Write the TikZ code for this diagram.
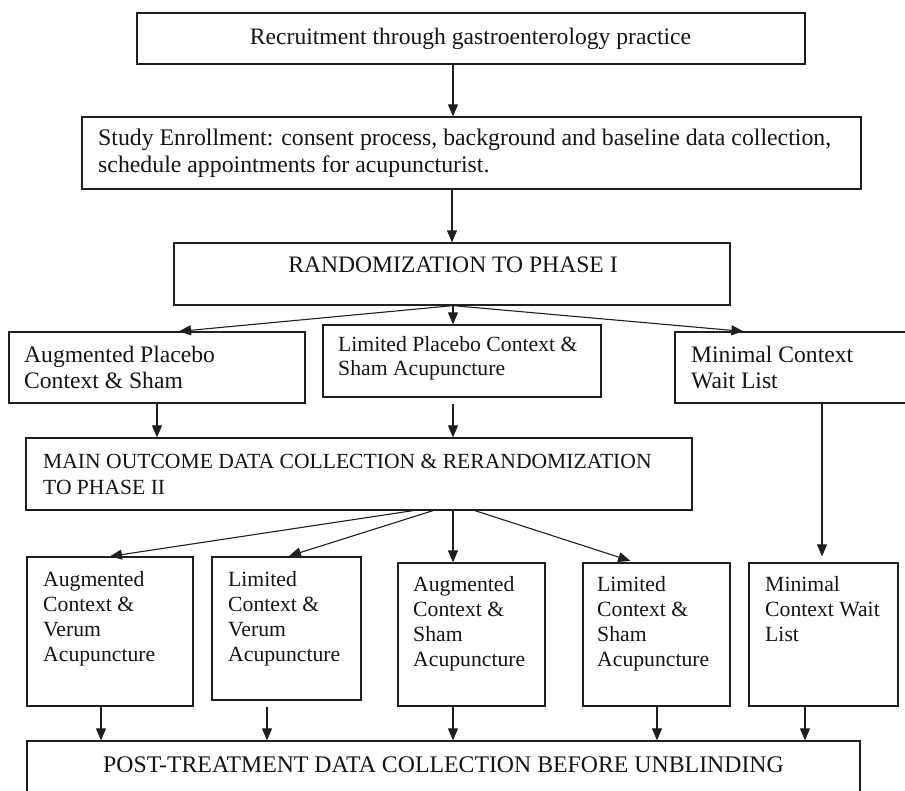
\documentclass[tikz,border=0pt]{standalone}
\usepackage{fontspec}
\setmainfont{Liberation Serif}
\usetikzlibrary{arrows.meta}
\begin{document}
\begin{tikzpicture}[x=1pt,y=-1pt,
  box/.style={draw=black!88, line width=1.25pt, inner sep=0pt},
  txt/.style={inner sep=0pt, align=left, text=black!92},
  big/.style={font=\fontsize{23.6}{26.5}\selectfont},
  small/.style={font=\fontsize{21.7}{25}\selectfont},
  arr/.style={draw=black!88, line width=1.1pt, -{Triangle[length=12pt,width=10pt]}}]
\useasboundingbox (0,0) rectangle (905,790);

% boxes
\node[box, minimum width=668pt, minimum height=51pt] (b1) at (471,38.5) {};
\node[box, minimum width=779pt, minimum height=72pt] (b2) at (471.5,153) {};
\node[box, minimum width=556pt, minimum height=62pt] (b3) at (452,274) {};
\node[box, minimum width=296pt, minimum height=71pt] (pa) at (157,367.5) {};
\node[box, minimum width=278pt, minimum height=72pt] (pb) at (462,361) {};
\node[box, minimum width=237pt, minimum height=71pt] (pc) at (793.5,367.5) {};
\node[box, minimum width=666pt, minimum height=72pt] (d) at (359,474) {};
\node[box, minimum width=166pt, minimum height=149pt] (e1) at (110,631.5) {};
\node[box, minimum width=149pt, minimum height=143pt] (e2) at (286.5,628.5) {};
\node[box, minimum width=147pt, minimum height=143pt] (e3) at (471.5,634.5) {};
\node[box, minimum width=147pt, minimum height=143pt] (e4) at (656.5,634.5) {};
\node[box, minimum width=149pt, minimum height=143pt] (e5) at (823.5,634.5) {};
\node[box, minimum width=833pt, minimum height=100pt] (f) at (443.5,791) {};

% texts
\node[txt, big] (t1) at (470.5,38.5) {Recruitment through gastroenterology practice};
\node[txt, big, font=\fontsize{23.8}{27}\selectfont, anchor=west] (t2) at (98,153)
  {Study Enrollment: consent process, background and baseline data collection,\\schedule appointments for acupuncturist.};
\node[txt, big] (t3) at (453,265) {RANDOMIZATION TO PHASE I};
\node[txt, big, anchor=west] (ta) at (24,367.5) {Augmented Placebo\\Context \& Sham};
\node[txt, small, font=\fontsize{21.7}{24}\selectfont, anchor=west] (tb) at (338,358)
  {Limited Placebo Context \&\\Sham Acupuncture};
\node[txt, big, anchor=west] (tc) at (691,367.5) {Minimal Context\\Wait List};
\node[txt, small, font=\fontsize{21.6}{26}\selectfont, anchor=west] (td) at (43,474)
  {MAIN OUTCOME DATA COLLECTION \& RERANDOMIZATION\\TO PHASE II};
\node[txt, small, anchor=north west] (te1) at (43,571.2) {Augmented\\Context \&\\Verum\\Acupuncture};
\node[txt, small, anchor=north west] (te2) at (228,571.2) {Limited\\Context \&\\Verum\\Acupuncture};
\node[txt, small, anchor=north west] (te3) at (413,576.2) {Augmented\\Context \&\\Sham\\Acupuncture};
\node[txt, small, anchor=north west] (te4) at (597,576.2) {Limited\\Context \&\\Sham\\Acupuncture};
\node[txt, small, anchor=north west] (te5) at (765,576.2) {Minimal\\Context Wait\\List};
\node[txt, big, font=\fontsize{23.8}{27}\selectfont] (tf) at (443.5,765) {POST-TREATMENT DATA COLLECTION BEFORE UNBLINDING};

% connectors
\draw[arr] ([xshift=-18pt]b1.south) -- ([xshift=-18pt]b1.south |- b2.north);
\draw[arr] (b2.south -| b3.north) -- (b3.north);
\draw[arr] ([xshift=1pt]b3.south) -- ([xshift=22pt]pa.north);
\draw[arr] ([xshift=1pt]b3.south) -- ([xshift=-9pt]pb.north);
\draw[arr] ([xshift=1pt]b3.south) -- ([xshift=69pt]pc.north west);
\draw[arr] (pa.south) -- (pa.south |- d.north);
\draw[arr] ([xshift=-9pt,yshift=-6pt]pb.south) -- ([xshift=-9pt]pb.south |- d.north);
\draw[arr, shorten >=6pt] ([xshift=28.5pt]pc.south) -- ([xshift=28.5pt]pc.south |- e5.north);
\draw[arr] ([xshift=54pt]d.south) -- (e1.north);
\draw[arr, shorten >=1pt] ([xshift=74pt]d.south) -- ([xshift=1.5pt]e2.north);
\draw[arr] ([xshift=94pt]d.south) -- ([xshift=-18.5pt]e3.north);
\draw[arr, shorten >=5pt] ([xshift=116pt]d.south) -- ([xshift=-21.5pt]e4.north);
\draw[arr] ([xshift=-9pt]e1.south) -- ([xshift=-9pt]e1.south |- f.north);
\draw[arr] ([xshift=-19.5pt,yshift=-6pt]e2.south) -- ([xshift=-19.5pt]e2.south |- f.north);
\draw[arr] ([xshift=-18.5pt]e3.south) -- ([xshift=-18.5pt]e3.south |- f.north);
\draw[arr] ([xshift=0.5pt]e4.south) -- ([xshift=0.5pt]e4.south |- f.north);
\draw[arr] ([xshift=-18.5pt]e5.south) -- ([xshift=-18.5pt]e5.south |- f.north);
\end{tikzpicture}
\end{document}
